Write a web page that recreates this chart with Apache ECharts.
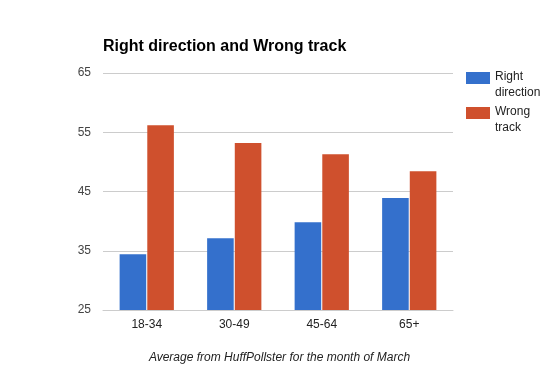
<!DOCTYPE html>
<html><head><meta charset="utf-8">
<script src="https://cdn.jsdelivr.net/npm/echarts@6/dist/echarts.min.js"></script>
<style>html,body{margin:0;padding:0;background:#fff}#c{width:559px;height:380px}</style>
</head><body><div id="c"></div>
<script>
const categories = ['18-34', '30-49', '45-64', '65+'];
const rightDirection = [34.4, 37.1, 39.8, 43.9];
const wrongTrack = [56.2, 53.2, 51.3, 48.4];
const yTicks = [25, 35, 45, 55, 65];
const seriesNames = ['Right\ndirection', 'Wrong\ntrack'];

const legendIcon = 'path://M0,0h0M0,3h24v12h-24zM0,32h0';
const chart = echarts.init(document.getElementById('c'), null, {renderer: 'canvas'});
chart.setOption({
  animation: false,
  backgroundColor: '#fff',
  title: [{
    text: 'Right direction and Wrong track',
    left: 98, top: 34,
    textStyle: {fontFamily: 'Liberation Sans, Arial', fontSize: 16, fontWeight: 'bold', color: '#000'}
  }, {
    text: 'Average from HuffPollster for the month of March',
    left: 'center', top: 347,
    textStyle: {fontFamily: 'Liberation Sans, Arial', fontSize: 12, fontStyle: 'italic', fontWeight: 'normal', color: '#222'}
  }],
  legend: {
    orient: 'vertical', left: 461, top: 64,
    itemWidth: 24, itemHeight: 32, itemGap: 3,
    icon: legendIcon,
    textStyle: {fontFamily: 'Liberation Sans, Arial', fontSize: 12, color: '#222', lineHeight: 16},
    data: seriesNames
  },
  grid: {left: 103, right: 106, top: 73, bottom: 70},
  xAxis: {
    type: 'category', data: categories,
    axisLine: {show: true, lineStyle: {color: '#ccc'}},
    axisTick: {show: false},
    axisLabel: {fontFamily: 'Liberation Sans, Arial', fontSize: 12, color: '#222', margin: 9}
  },
  yAxis: {
    type: 'value', min: yTicks[0], max: yTicks[yTicks.length - 1], interval: 10,
    axisLine: {show: false}, axisTick: {show: false},
    splitLine: {lineStyle: {color: '#ccc'}},
    axisLabel: {fontFamily: 'Liberation Sans, Arial', fontSize: 12, color: '#444', margin: 12}
  },
  series: [{
    name: seriesNames[0], type: 'bar', data: rightDirection,
    itemStyle: {color: '#3470cc'}, barGap: '4%', barCategoryGap: '38%'
  }, {
    name: seriesNames[1], type: 'bar', data: wrongTrack,
    itemStyle: {color: '#cf502d'}, barGap: '4%', barCategoryGap: '38%'
  }]
});
</script></body></html>
